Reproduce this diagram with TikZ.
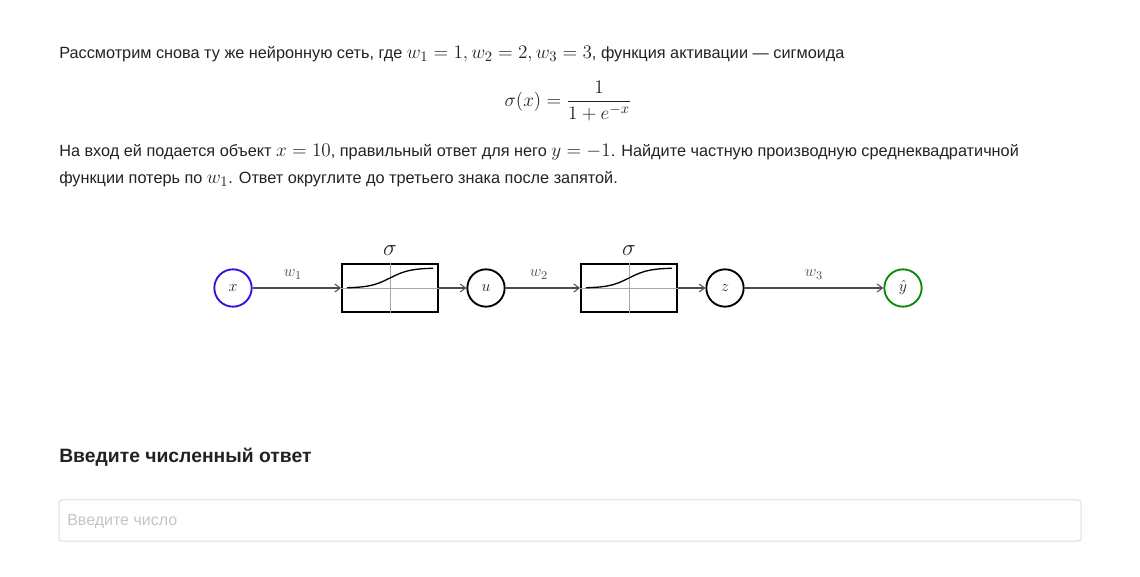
\documentclass[tikz,border=0pt]{standalone}
\usepackage{amsmath}
\usepackage{fontspec}
\setmainfont{Liberation Sans}
\usetikzlibrary{arrows.meta,positioning}
\definecolor{txt}{HTML}{222222}
\definecolor{hint}{HTML}{C4C4C4}
\definecolor{frame}{HTML}{DDDDDD}
\definecolor{inblue}{HTML}{2A14E6}
\definecolor{outgreen}{HTML}{0A8A0A}
\newcommand{\m}[1]{{\fontsize{15.5}{15.5}\selectfont$#1$}}

\begin{document}
\begin{tikzpicture}[x=0.75pt, y=-0.75pt, text=txt, font=\fontsize{12.2}{14}\selectfont,
    >={Straight Barb[length=4pt, width=6pt]},
    txtline/.style={anchor=base west, inner sep=0pt},
    neuron/.style={draw, circle, line width=1.4pt, minimum size=28pt, inner sep=0pt, font=\fontsize{12}{12}\selectfont},
    act/.style={draw, line width=1.4pt, minimum width=72pt, minimum height=36pt, inner sep=0pt},
    wire/.style={->, black!70, line width=0.8pt},
    guide/.style={black!35, line width=0.6pt},
    wlabel/.style={above=3pt, font=\fontsize{12.5}{12.5}\selectfont}]
  \useasboundingbox (0,0) rectangle (1140,577);
  % problem text
  \node[txtline] (l1) at (59,59)
       {Рассмотрим снова ту же нейронную сеть, где \m{w_1=1, w_2=2, w_3=3}, функция активации — сигмоида};
  \node (f) at (568,101) {\m{\sigma(x) = \dfrac{1}{1+e^{-x}}}};
  \node[txtline] (l2) at (59,157)
       {На вход ей подается объект \m{x=10}, правильный ответ для него \m{y=-1}. Найдите частную производную среднеквадратичной};
  \node[txtline] (l3) at (59,184)
       {функции потерь по \m{w_1}. Ответ округлите до третьего знака после запятой.};
  % the network
  \node[neuron, draw=inblue] (x) at (233,288) {$x$};
  \node[act] (s1) at (390,288) {};
  \node[neuron] (u) at (486,288) {$u$};
  \node[act] (s2) at (629,288) {};
  \node[neuron] (z) at (725,288) {$z$};
  \node[neuron, draw=outgreen] (yh) at (903,288) {$\hat{y}$};
  \foreach \s in {s1,s2} {
    \draw[guide] (\s.west) -- (\s.east);
    \draw[guide] (\s.north) -- (\s.south);
    \draw[line width=1pt, shift={(\s.center)}] plot[smooth, domain=-43:43, samples=30]
         (\x, {-20/(1+exp(-\x/10))});
    \node[above=2pt of \s.north, font=\fontsize{18}{18}\selectfont] {$\sigma$};
  }
  \draw[wire] (x) -- node[wlabel, xshift=-3pt] {$w_1$} (s1);
  \draw[wire] (s1) -- (u);
  \draw[wire] (u) -- node[wlabel, xshift=-3pt] {$w_2$} (s2);
  \draw[wire] (s2) -- (z);
  \draw[wire] (z) -- node[wlabel] {$w_3$} (yh);
  % answer field
  \node[txtline, font=\bfseries\fontsize{14.5}{16}\selectfont] (head) at (59,463) {Введите численный ответ};
  \draw[frame, line width=0.75pt, rounded corners=2pt] (59,500) rectangle (1081,541);
  \node[txtline, text=hint, font=\fontsize{12}{14}\selectfont] (hint) at (67,525) {Введите число};
\end{tikzpicture}
\end{document}
